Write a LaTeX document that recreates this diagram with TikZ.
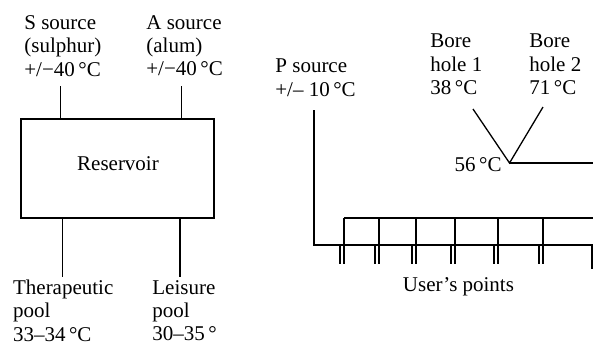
\documentclass[tikz,border=0pt]{standalone}
\usepackage{fontspec}
\setmainfont{Liberation Serif}
\begin{document}
\begin{tikzpicture}[x=0.5pt,y=-0.5pt,
  lbl/.style={anchor=north west,inner sep=0pt,align=left,font=\fontsize{10.5}{11.6}\selectfont,execute at begin node=\strut},
  txt/.style={inner sep=0pt,font=\fontsize{10.5}{11.6}\selectfont},
  pipe/.style={line width=0.65pt}]
\useasboundingbox (0,0) rectangle (593,345);
% labels
\node[lbl] (ssrc) at (24,15.3) {S source\\(sulphur)\\+/−40\,°C};
\node[lbl] (asrc) at (146,15.3) {A source\\(alum)\\+/−40\,°C};
\node[lbl] (ther) at (12.7,279.8) {Therapeutic\\pool\\33–34\,°C};
\node[lbl] (leis) at (152,279.8) {Leisure\\pool\\30–35\,°};
\node[lbl] (psrc) at (275,58.8) {P source\\+/– 10\,°C};
\node[lbl] (bh1) at (430,33.8) {Bore\\hole 1\\38\,°C};
\node[lbl] (bh2) at (529,33.8) {Bore\\hole 2\\71\,°C};
\node[txt,anchor=base east] (t56) at (502,171) {56\,°C};
\node[txt,anchor=base] (users) at (458.5,291.5) {User’s points};
% reservoir
\node[draw,pipe,minimum width=96.5pt,minimum height=49.5pt,inner sep=0pt] (res) at (117.5,168.5) {};
\node[txt,anchor=base] (restext) at (118,170) {Reservoir};
% left connectors
\coordinate (sTop) at (60.7,86);
\coordinate (aTop) at (181.7,86);
\coordinate (tBot) at (62.3,277);
\coordinate (lBot) at (180,277);
\draw[pipe] (sTop) -- (sTop |- res.north);
\draw[pipe] (aTop) -- (aTop |- res.north);
\draw[pipe] (tBot |- res.south) -- (tBot);
\draw[pipe] (lBot |- res.south) -- (lBot);
% right network
\coordinate (pTop) at (314,110);
\coordinate (mainL) at (314,245);
\coordinate (mainR) at (592,245);
\coordinate (mainE) at (592,269);
\draw[pipe] (pTop) -- (mainL) -- (mainR) -- (mainE);
\coordinate (upL) at (344,218);
\coordinate (upR) at (600,218);
\draw[pipe] (upL) -- (upR);
\foreach \x in {344,379,416,455,498,543} {
  \draw[pipe] (\x,218) -- (\x,264);
  \draw[pipe] (\x-4,245) -- (\x-4,264);
}
\coordinate (J) at (509.5,163);
\coordinate (b1) at (473,109);
\coordinate (b2) at (543,107);
\coordinate (hotR) at (600,163);
\draw[pipe] (b1) -- (J) -- (b2);
\draw[pipe] (J) -- (hotR);
\end{tikzpicture}
\end{document}
